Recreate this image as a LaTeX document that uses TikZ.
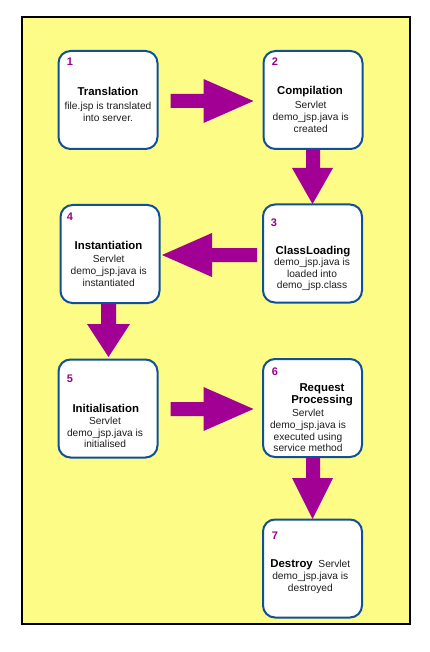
\documentclass[tikz,border=0pt]{standalone}
\usepackage{fontspec}
\setmainfont{Liberation Sans}
\usetikzlibrary{calc}
\definecolor{bgy}{RGB}{252,252,135}
\definecolor{boxb}{RGB}{15,80,150}
\definecolor{arrc}{RGB}{162,0,148}
\definecolor{numc}{RGB}{150,0,140}
\definecolor{txtc}{RGB}{30,30,30}
\begin{document}
\begin{tikzpicture}[x=1pt,y=-1pt,
 stepbox/.style={draw=boxb,line width=2pt,fill=white,rounded corners=12pt,minimum width=99pt,minimum height=98pt,inner sep=0pt},
 num/.style={text=numc,font=\fontsize{11}{13}\selectfont\bfseries,inner sep=0pt},
 ttl/.style={font=\fontsize{11.4}{12}\selectfont\bfseries,align=center,inner sep=0pt,anchor=north},
 bdy/.style={text=txtc,font=\fontsize{10.2}{11.7}\selectfont,align=center,inner sep=0pt,anchor=north},
 fatarrow/.style={fill=arrc}]
\useasboundingbox (0,0) rectangle (430,652);
\draw[black,line width=2pt,fill=bgy] (21.7,17) rectangle (409.8,623.7);

% boxes
\node[stepbox] (b1) at (108,100) {};
\node[stepbox] (b2) at (313,100) {};
\node[stepbox] (b3) at (312.5,253.5) {};
\node[stepbox] (b4) at (110,254) {};
\node[stepbox] (b5) at (108,408.5) {};
\node[stepbox] (b6) at (312.5,408) {};
\node[stepbox] (b7) at (312.5,568.5) {};

% numbers
\node[num] (n1) at (70,62) {1};
\node[num] (n2) at (275,62) {2};
\node[num] (n3) at (274,223) {3};
\node[num] (n4) at (70,217) {4};
\node[num] (n5) at (70,379) {5};
\node[num] (n6) at (275,372) {6};
\node[num] (n7) at (275,536) {7};

% texts
\node[ttl] (ti1) at (108,86.8) {Translation};
\node[bdy] (bo1) at (108,102.2) {file.jsp is translated\\into server.};
\node[ttl] (ti2) at (310,85.8) {Compilation};
\node[bdy] (bo2) at (310.7,101.2) {Servlet\\demo\_jsp.java is\\created};
\node[ttl] (ti3) at (313,245.8) {ClassLoading};
\node[bdy] (bo3) at (312,257.8) {demo\_jsp.java is\\loaded into\\demo\_jsp.class};
\node[ttl] (ti4) at (108.5,240.8) {Instantiation};
\node[bdy] (bo4) at (108.7,255.2) {Servlet\\demo\_jsp.java is\\instantiated};
\node[ttl] (ti5) at (105.8,404) {Initialisation};
\node[bdy] (bo5) at (105,416.8) {Servlet\\demo\_jsp.java is\\initialised};
\node[ttl] (ti6) at (322,383) {Request\\Processing};
\node[bdy] (bo6) at (308,409.2) {Servlet\\demo\_jsp.java is\\executed using\\service method};
\node[bdy] (bo7) at (310.3,559.8) {{\color{black}\fontsize{11.4}{12}\selectfont\bfseries Destroy}\ \ Servlet\\demo\_jsp.java is\\destroyed};

% arrows
\fill[fatarrow] ($(b1.east)+(12,-6)$) -- ++(33,0) -- ++(0,-15) -- ++(50,22) -- ++(-50,22) -- ++(0,-15) -- ++(-33,0) -- cycle;
\fill[fatarrow] ($(b2.south)+(-7,0)$) -- ++(0,18) -- ++(-14,0) -- ++(20.5,36) -- ++(20.5,-36) -- ++(-13,0) -- ++(0,-18) -- cycle;
\fill[fatarrow] ($(b3.west)+(-5,-5.5)$) -- ++(-45,0) -- ++(0,-15) -- ++(-50,22) -- ++(50,22) -- ++(0,-15) -- ++(45,0) -- cycle;
\fill[fatarrow] ($(b4.south)+(-9,0)$) -- ++(0,20) -- ++(-14,0) -- ++(21.5,33) -- ++(21.5,-33) -- ++(-14,0) -- ++(0,-20) -- cycle;
\fill[fatarrow] ($(b5.east)+(12,-6.5)$) -- ++(33,0) -- ++(0,-15) -- ++(50,22) -- ++(-50,22) -- ++(0,-15) -- ++(-33,0) -- cycle;
\fill[fatarrow] ($(b6.south)+(-6.5,0)$) -- ++(0,20) -- ++(-14,0) -- ++(20.5,41) -- ++(20.5,-41) -- ++(-13,0) -- ++(0,-20) -- cycle;
\end{tikzpicture}
\end{document}
